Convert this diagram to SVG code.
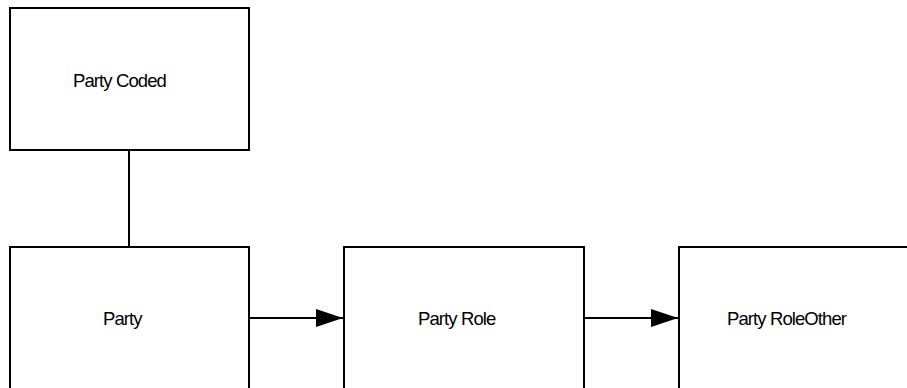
<svg xmlns="http://www.w3.org/2000/svg" width="907" height="388" viewBox="0 0 907 388">
<style>
.box{fill:#fff;stroke:#000;stroke-width:2}
.lbl{font-family:"Liberation Sans",Arial,sans-serif;font-size:18.5px;fill:#000;letter-spacing:-0.9px}
.conn{stroke:#000;stroke-width:2;fill:none}
</style>
<defs>
<marker id="arr" markerUnits="userSpaceOnUse" markerWidth="28" markerHeight="18" refX="27" refY="9" orient="auto">
<path d="M0,0 L27,9 L0,18 Z" fill="#000"/>
</marker>
</defs>
<rect width="907" height="388" fill="#fff"/>
<g id="connectors">
<line class="conn" x1="129" y1="150" x2="129" y2="247"/>
<line class="conn" x1="249" y1="318" x2="343" y2="318" marker-end="url(#arr)"/>
<line class="conn" x1="584" y1="318" x2="678" y2="318" marker-end="url(#arr)"/>
</g>
<g id="party-coded">
<rect class="box" x="10" y="8" width="239" height="142"/>
<text class="lbl" x="73" y="87">Party Coded</text>
</g>
<g id="party">
<rect class="box" x="10" y="247" width="239" height="150"/>
<text class="lbl" x="103" y="325">Party</text>
</g>
<g id="party-role">
<rect class="box" x="344" y="247" width="240" height="150"/>
<text class="lbl" x="418" y="325">Party Role</text>
</g>
<g id="party-role-other">
<rect class="box" x="679" y="247" width="240" height="150"/>
<text class="lbl" x="727" y="325">Party RoleOther</text>
</g>
</svg>
